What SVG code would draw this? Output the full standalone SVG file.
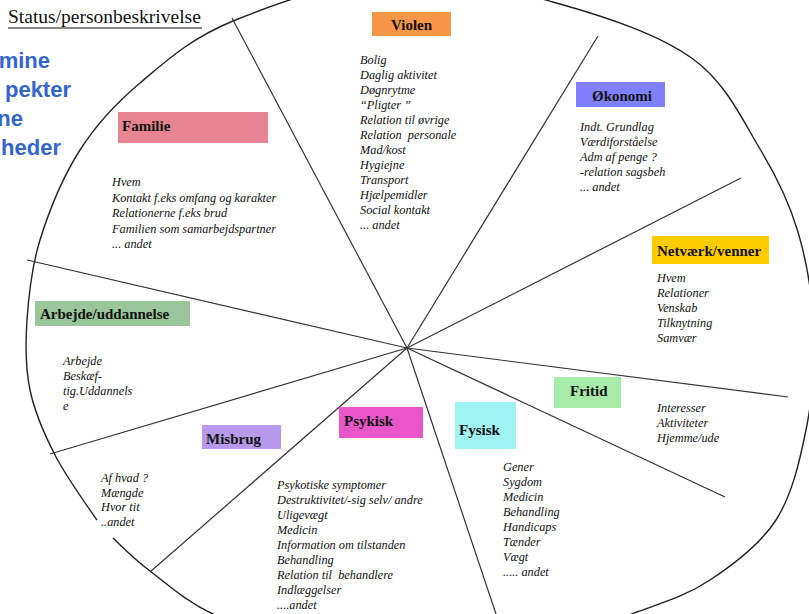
<svg xmlns="http://www.w3.org/2000/svg" width="809" height="614" viewBox="0 0 809 614">
<style>
.lbl{font-family:"Liberation Serif","Times New Roman",serif;font-weight:bold;font-size:15px;fill:#111}
.lst{font-family:"Liberation Serif","Times New Roman",serif;font-style:italic;font-size:12.3px;fill:#111}
.blue{font-family:"Liberation Sans",Arial,sans-serif;font-weight:bold;font-size:22px;fill:#3366CC}
.spoke{stroke:#333;stroke-width:1.2;fill:none}
</style>
<rect width="809" height="614" fill="#fff"/>
<g id="title">
<text x="8" y="23" font-family="'Liberation Serif','Times New Roman',serif" font-size="19.5" fill="#111">Status/personbeskrivelse</text>
<line x1="8" y1="28" x2="202" y2="28" stroke="#111" stroke-width="1.2"/>
</g>
<g id="sidetext">
<text class="blue" x="50" y="68" text-anchor="end">mine</text>
<text class="blue" x="71" y="97" text-anchor="end">pekter</text>
<text class="blue" x="23" y="126" text-anchor="end">ne</text>
<text class="blue" x="61" y="155" text-anchor="end">heder</text>
</g>
<g id="connectors">
<path d="M97,520 C87.3,506.2 66.2,476.7 55,455 C43.8,433.3 34.7,412.5 30,390 C25.3,367.5 25.3,345 27,320 C28.7,295 31.2,268.3 40,240 C48.8,211.7 63.3,176.2 80,150 C96.7,123.8 114.5,104.5 140,83 C165.5,61.5 189.7,38.8 233,21 C276.3,3.2 345.5,-21.2 400,-24 C454.5,-26.8 511.2,-9.8 560,4 C608.8,17.8 659.7,34.8 693,59 C726.3,83.2 742.5,120.2 760,149 C777.5,177.8 789,201.5 798,232 C807,262.5 812.7,299 814,332 C815.3,365 812.3,398.7 806,430 C799.7,461.3 792,495 776,520 C760,545 733.2,564.7 710,580 C686.8,595.3 667,601.2 637,612 C607,622.8 566.2,637.8 530,645 C493.8,652.2 456.7,655 420,655 C383.3,655 344.5,651.8 310,645 C275.5,638.2 239.7,626.3 213,614 C186.3,601.7 166.7,583.7 150,571 C133.3,558.3 121.8,546.5 113,538" fill="none" stroke="#222" stroke-width="1.4"/>
<line class="spoke" x1="407" y1="348" x2="232" y2="18"/>
<line class="spoke" x1="407" y1="348" x2="598" y2="36"/>
<line class="spoke" x1="407" y1="348" x2="741" y2="178"/>
<line class="spoke" x1="407" y1="348" x2="788" y2="397"/>
<line class="spoke" x1="407" y1="348" x2="725" y2="497"/>
<line class="spoke" x1="407" y1="348" x2="498" y2="620"/>
<line class="spoke" x1="407" y1="348" x2="150" y2="572"/>
<line class="spoke" x1="407" y1="348" x2="50" y2="454"/>
<line class="spoke" x1="407" y1="348" x2="27" y2="260"/>
</g>
<g id="violen">
<rect x="372" y="12" width="79" height="24" fill="#F79646"/>
<text class="lbl" x="411.5" y="30" text-anchor="middle">Violen</text>
<text class="lst" xml:space="preserve"><tspan x="360" y="64">Bolig</tspan><tspan x="360" y="79">Daglig aktivitet</tspan><tspan x="360" y="94">Døgnrytme</tspan><tspan x="360" y="109">“Pligter ”</tspan><tspan x="360" y="124">Relation til øvrige</tspan><tspan x="360" y="139">Relation  personale</tspan><tspan x="360" y="154">Mad/kost</tspan><tspan x="360" y="169">Hygiejne</tspan><tspan x="360" y="184">Transport</tspan><tspan x="360" y="199">Hjælpemidler</tspan><tspan x="360" y="214">Social kontakt</tspan><tspan x="360" y="229">... andet</tspan></text>
</g>
<g id="okonomi">
<rect x="576" y="82" width="89" height="25" fill="#8080FF"/>
<text class="lbl" x="592" y="101">Økonomi</text>
<text class="lst"><tspan x="580" y="131">Indt. Grundlag</tspan><tspan x="580" y="146">Værdiforståelse</tspan><tspan x="580" y="161">Adm af penge ?</tspan><tspan x="580" y="176">-relation sagsbeh</tspan><tspan x="580" y="191">... andet</tspan></text>
</g>
<g id="familie">
<rect x="118" y="112" width="150" height="31" fill="#E6848F"/>
<text class="lbl" x="122" y="131">Familie</text>
<text class="lst"><tspan x="112" y="186">Hvem</tspan><tspan x="112" y="201.5">Kontakt f.eks omfang og karakter</tspan><tspan x="112" y="217">Relationerne f.eks brud</tspan><tspan x="112" y="232.5">Familien som samarbejdspartner</tspan><tspan x="112" y="248">... andet</tspan></text>
</g>
<g id="netvaerk">
<rect x="652" y="236" width="117" height="28" fill="#FFCC00"/>
<text class="lbl" x="657" y="256">Netværk/venner</text>
<text class="lst"><tspan x="657" y="282">Hvem</tspan><tspan x="657" y="297">Relationer</tspan><tspan x="657" y="312">Venskab</tspan><tspan x="657" y="327">Tilknytning</tspan><tspan x="657" y="342">Samvær</tspan></text>
</g>
<g id="arbejde">
<rect x="35" y="301" width="155" height="25" fill="#9BC59B"/>
<text class="lbl" x="40" y="319">Arbejde/uddannelse</text>
<text class="lst"><tspan x="63" y="365">Arbejde</tspan><tspan x="63" y="380">Beskæf-</tspan><tspan x="63" y="395">tig.Uddannels</tspan><tspan x="63" y="410">e</tspan></text>
</g>
<g id="fritid">
<rect x="554" y="377" width="67" height="31" fill="#A6EBA8"/>
<text class="lbl" x="570" y="396">Fritid</text>
<text class="lst"><tspan x="657" y="412">Interesser</tspan><tspan x="657" y="427">Aktiviteter</tspan><tspan x="657" y="442">Hjemme/ude</tspan></text>
</g>
<g id="misbrug">
<rect x="202" y="425" width="79" height="24" fill="#B799EC"/>
<text class="lbl" x="206" y="444">Misbrug</text>
<text class="lst"><tspan x="101" y="482">Af hvad ?</tspan><tspan x="101" y="497">Mængde</tspan><tspan x="101" y="511">Hvor tit</tspan><tspan x="101" y="526">..andet</tspan></text>
</g>
<g id="psykisk">
<rect x="339" y="407" width="84" height="31" fill="#E856C9"/>
<text class="lbl" x="344" y="426">Psykisk</text>
<text class="lst" xml:space="preserve"><tspan x="277" y="489">Psykotiske symptomer</tspan><tspan x="277" y="504">Destruktivitet/-sig selv/ andre</tspan><tspan x="277" y="519">Uligevægt</tspan><tspan x="277" y="534">Medicin</tspan><tspan x="277" y="549">Information om tilstanden</tspan><tspan x="277" y="564">Behandling</tspan><tspan x="277" y="579">Relation til  behandlere</tspan><tspan x="277" y="594">Indlæggelser</tspan><tspan x="277" y="609">....andet</tspan></text>
</g>
<g id="fysisk">
<rect x="455" y="402" width="61" height="47" fill="#9FF3F3"/>
<text class="lbl" x="459" y="435">Fysisk</text>
<text class="lst"><tspan x="503" y="471">Gener</tspan><tspan x="503" y="486">Sygdom</tspan><tspan x="503" y="501">Medicin</tspan><tspan x="503" y="516">Behandling</tspan><tspan x="503" y="531">Handicaps</tspan><tspan x="503" y="546">Tænder</tspan><tspan x="503" y="561">Vægt</tspan><tspan x="503" y="576">..... andet</tspan></text>
</g>
</svg>
